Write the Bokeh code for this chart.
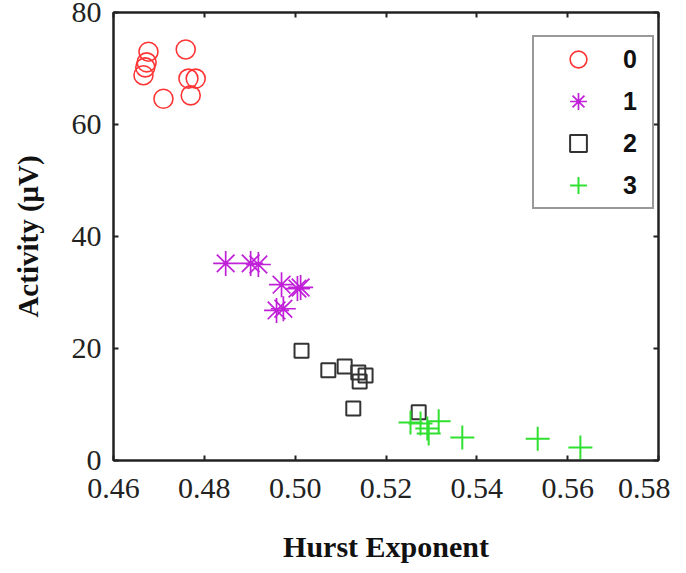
from bokeh.plotting import figure
from bokeh.models import LinearAxis, FixedTicker, Range1d, Legend, CustomJSTickFormatter
from bokeh.embed import file_html
from bokeh.resources import INLINE

# ---- data ----
h0 = [0.4677, 0.4673, 0.4670, 0.4666, 0.4710, 0.4759, 0.4765, 0.4781, 0.4770]
a0 = [73.0, 71.1, 70.2, 68.8, 64.6, 73.4, 68.2, 68.2, 65.2]

h1 = [0.4847, 0.4902, 0.4919, 0.4970, 0.5005, 0.5012, 0.4959, 0.4974]
a1 = [35.2, 35.2, 35.0, 31.4, 30.7, 30.9, 26.8, 27.1]

h2 = [0.5014, 0.5073, 0.5109, 0.5139, 0.5155, 0.5142, 0.5128, 0.5272]
a2 = [19.6, 16.1, 16.8, 15.7, 15.2, 14.1, 9.3, 8.6]

h3 = [0.5254, 0.5276, 0.5291, 0.5294, 0.5316, 0.5368, 0.5534, 0.5628]
a3 = [6.8, 6.6, 5.7, 4.8, 7.0, 4.1, 3.9, 2.3]

class_labels = ["0", "1", "2", "3"]
x_ticks = [0.46, 0.48, 0.50, 0.52, 0.54, 0.56, 0.58]
y_ticks = [0, 20, 40, 60, 80]

p = figure(width=670, height=565, output_backend="svg", toolbar_location=None,
           x_range=Range1d(0.46, 0.58), y_range=Range1d(0, 80),
           min_border_left=113, min_border_right=12, min_border_top=12,
           min_border_bottom=105)
p.grid.visible = False
p.outline_line_color = "#222222"
p.outline_line_width = 2

SERIF = "Liberation Serif"

def style_axis(ax, ticks, show_labels=True):
    ax.ticker = FixedTicker(ticks=ticks)
    ax.axis_line_color = "#222222"
    ax.axis_line_width = 2
    ax.major_tick_in = 5
    ax.major_tick_out = 0
    ax.major_tick_line_width = 2
    ax.major_tick_line_color = "#222222"
    ax.minor_tick_line_color = None
    ax.major_label_text_font = SERIF
    ax.major_label_text_color = "#222222"
    if show_labels:
        ax.major_label_text_font_size = "30px"
    else:
        ax.formatter = CustomJSTickFormatter(code="return '';")
        ax.major_label_text_font_size = "2px"
        ax.major_label_standoff = 0

xa = p.xaxis[0]
ya = p.yaxis[0]
style_axis(xa, x_ticks)
style_axis(ya, y_ticks)
xa.formatter = CustomJSTickFormatter(code="return tick.toFixed(2);")
xa.major_label_standoff = 18
ya.major_label_standoff = 12
xa.axis_label = "Hurst Exponent"
ya.axis_label = "Activity (μV)"
for ax in (xa, ya):
    ax.axis_label_text_font = SERIF
    ax.axis_label_text_font_style = "bold"
    ax.axis_label_text_color = "#111111"
xa.axis_label_text_font_size = "30px"
ya.axis_label_text_font_size = "29px"
xa.axis_label_standoff = 29
ya.axis_label_standoff = 25

top = LinearAxis()
style_axis(top, x_ticks, show_labels=False)
right = LinearAxis()
style_axis(right, y_ticks, show_labels=False)
p.add_layout(top, "above")
p.add_layout(right, "right")

r0 = p.scatter(h0, a0, marker="circle", size=19, fill_color=None,
               line_color="#ff3535", line_width=1.6)
r1 = p.scatter(h1, a1, marker="asterisk", size=25,
               line_color="#c020d8", line_width=1.7)
r2 = p.scatter(h2, a2, marker="square", size=14, fill_color=None,
               line_color="#333333", line_width=2)
r3 = p.scatter(h3, a3, marker="cross", size=24,
               line_color="#30e030", line_width=2)

legend = Legend(items=[(class_labels[0], [r0]), (class_labels[1], [r1]),
                       (class_labels[2], [r2]), (class_labels[3], [r3])],
                location=(419, 251))
legend.border_line_color = "#333333"
legend.border_line_width = 2
legend.background_fill_alpha = 1
legend.padding = 1
legend.spacing = 0
legend.glyph_width = 86
legend.glyph_height = 42
legend.label_standoff = 2
legend.label_width = 28
legend.label_text_font = "Liberation Sans"
legend.label_text_font_style = "bold"
legend.label_text_font_size = "25px"
legend.label_text_color = "#111111"
legend.margin = 0
p.add_layout(legend)

open("out.html", "w").write(file_html(p, INLINE))
